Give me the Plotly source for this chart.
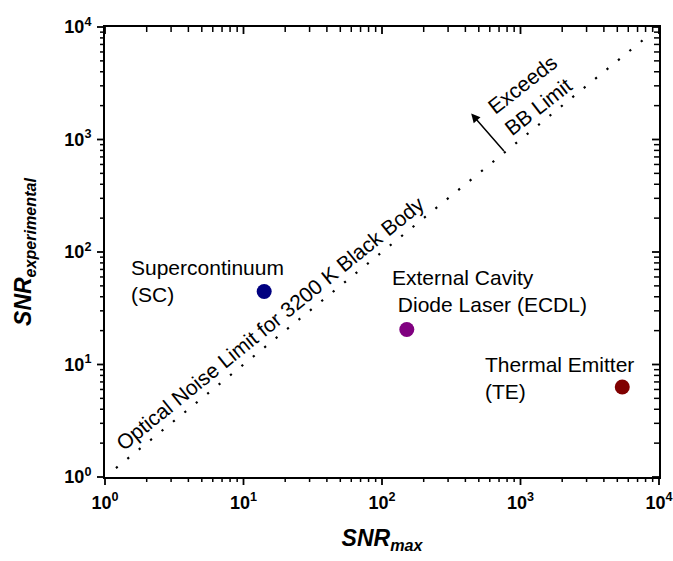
import numpy as np
import plotly.graph_objects as go

# Measured signal-to-noise ratios for each source
sources = ["Supercontinuum", "External Cavity Diode Laser", "Thermal Emitter"]
snr_max = [14.1, 151, 5430]
snr_experimental = [44.5, 20.5, 6.3]
source_colors = ["#000080", "#800080", "#800000"]

# Optical noise limit (SNR_experimental = SNR_max) for a 3200 K black body
limit_snr = [1.2, 8500]

# Decade tick labels, keyed by the default log-axis label text
decade_labels = {
    "1": "<b>10<sup>0</sup></b>",
    "10": "<b>10<sup>1</sup></b>",
    "100": "<b>10<sup>2</sup></b>",
    "1000": "<b>10<sup>3</sup></b>",
    "10000": "<b>10<sup>4</sup></b>",
    "10,000": "<b>10<sup>4</sup></b>",
    "10k": "<b>10<sup>4</sup></b>",
}

# Tick positions: decades and the 2..9 x 10^n values between them
decades = [1, 10, 100, 1000, 10000]
minor_vals = [m * 10 ** k for k in range(4) for m in range(2, 10)]

FONT = "Arial, Liberation Sans, sans-serif"
LOG_RANGE = [0, 4]
PLOT_W, PLOT_H = 554, 450  # plot area size in px (from the margins below)

fig = go.Figure()

fig.add_trace(go.Scatter(
    x=limit_snr, y=limit_snr, mode="lines",
    line=dict(color="black", width=2.2, dash="2.2px,12.5px"),
    showlegend=False, hoverinfo="skip",
))

fig.add_trace(go.Scatter(
    x=snr_max, y=snr_experimental, mode="markers",
    marker=dict(size=15, color=source_colors, line=dict(width=0)),
    text=sources, showlegend=False,
))


def log_axis(**extra):
    return dict(
        type="log", range=LOG_RANGE,
        tickmode="linear", tick0=0, dtick=1, exponentformat="none",
        showgrid=False, zeroline=False,
        showline=True, mirror=True, linecolor="black", linewidth=2,
        ticks="outside", ticklen=8, tickcolor="rgba(0,0,0,0)",
        labelalias=decade_labels, tickfont=dict(size=18, family=FONT),
        **extra,
    )


fig.update_layout(
    template="none",
    width=673, height=561,
    margin=dict(l=105, r=14, t=27, b=84),
    paper_bgcolor="white", plot_bgcolor="white",
    font=dict(family=FONT, color="black"),
    xaxis=log_axis(
        title=dict(text="<b><i>SNR</i></b><sub><b><i>max</i></b></sub>",
                   font=dict(size=23, family=FONT), standoff=18),
    ),
    yaxis=log_axis(
        title=dict(text="<b><i>SNR</i></b><sub><b><i>experimental</i></b></sub>",
                   font=dict(size=23, family=FONT), standoff=26),
    ),
)


# Frame ticks: outward on bottom/left, inward on top/right
def frame_ticks(values, out_len, in_len, width):
    span = LOG_RANGE[1] - LOG_RANGE[0]
    style = dict(type="line", xref="paper", yref="paper",
                 line=dict(color="black", width=width), layer="above")
    shapes = []
    for v in values:
        f = (np.log10(v) - LOG_RANGE[0]) / span
        shapes += [
            dict(x0=f, x1=f, y0=0, y1=-out_len / PLOT_H, **style),
            dict(x0=f, x1=f, y0=1, y1=1 - in_len / PLOT_H, **style),
            dict(x0=0, x1=-out_len / PLOT_W, y0=f, y1=f, **style),
            dict(x0=1, x1=1 - in_len / PLOT_W, y0=f, y1=f, **style),
        ]
    return shapes


for shp in frame_ticks(decades, 8, 7, 1.8) + frame_ticks(minor_vals, 5, 5, 1.5):
    fig.add_shape(**shp)

label_font = dict(size=21, family=FONT, color="black")

annotations = [
    dict(text="Optical Noise Limit for 3200 K Black Body", x=0.298, y=0.340,
         textangle=-39, xanchor="center", yanchor="middle"),
    dict(text="Exceeds<br>BB Limit", x=0.768, y=0.850, textangle=-38,
         align="left", xanchor="center", yanchor="middle"),
    dict(text="Supercontinuum<br>(SC)", x=0.0433, y=0.4356,
         align="left", xanchor="left", yanchor="middle"),
    dict(text="External Cavity<br>\u00a0Diode Laser (ECDL)", x=0.5146, y=0.414,
         align="left", xanchor="left", yanchor="middle"),
    dict(text="Thermal Emitter<br>(TE)", x=0.6823, y=0.22,
         align="left", xanchor="left", yanchor="middle"),
]
for a in annotations:
    fig.add_annotation(xref="paper", yref="paper", showarrow=False,
                       font=label_font, **a)

# Arrow pointing into the region above the limit
fig.add_annotation(xref="paper", yref="paper", x=0.661, y=0.808,
                   ax=34, ay=39, text="", showarrow=True,
                   arrowhead=2, arrowsize=1.2, arrowwidth=1.5,
                   arrowcolor="black", standoff=0)

fig.write_html("out.html")
